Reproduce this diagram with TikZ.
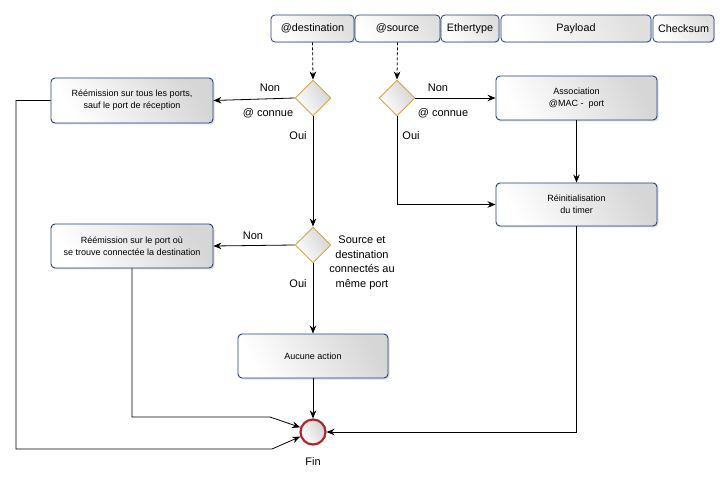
\documentclass[tikz,border=0pt]{standalone}
\usepackage{fontspec}
\setmainfont{Liberation Sans}
\usetikzlibrary{arrows.meta,shapes.geometric,shadows}
\definecolor{boxline}{HTML}{22407F}
\definecolor{diamline}{HTML}{D9A445}
\definecolor{finline}{HTML}{B3242A}
\begin{document}
\begin{tikzpicture}[x=1pt,y=-1pt,
  proc/.style={draw=boxline, line width=0.9pt, rounded corners=4pt,
    left color=white, right color=gray!32, shading angle=120,
    drop shadow={shadow xshift=1.5pt, shadow yshift=-1.5pt, fill=gray!45, opacity=0.6},
    align=center, font=\fontsize{9}{12}\selectfont, inner sep=2pt},
  field/.style={draw=boxline, line width=0.8pt, rounded corners=4pt,
    left color=white, right color=gray!25, shading angle=120,
    drop shadow={shadow xshift=1pt, shadow yshift=-1pt, fill=gray!45, opacity=0.5},
    minimum height=27pt, inner sep=1pt, font=\fontsize{10.8}{12}\selectfont},
  decision/.style={diamond, draw=diamline, line width=0.9pt, aspect=1,
    left color=white, right color=gray!35, shading angle=120,
    minimum width=36pt, minimum height=36pt, inner sep=0pt},
  endstate/.style={circle, draw=finline, line width=2.2pt,
    left color=white, right color=gray!35, shading angle=120,
    minimum size=25pt, inner sep=0pt},
  lbl/.style={font=\fontsize{11}{14.5}\selectfont, align=center, inner sep=0pt},
  arr/.style={-{Stealth[length=8pt,width=6.5pt]}, line width=0.8pt},
  darr/.style={arr, dashed, dash pattern=on 3pt off 2pt}]
\useasboundingbox (0,0) rectangle (728,486);

% frame fields
\node[field, minimum width=83pt] (fdst) at (312.5,28.5) {@destination};
\node[field, minimum width=85pt] (fsrc) at (397.5,28.5) {@source};
\node[field, minimum width=58pt] (feth) at (470,28.5) {Ethertype};
\node[field, minimum width=150pt] (fpay) at (576,28.5) {Payload};
\node[field, minimum width=61pt] (fchk) at (683.5,28.5) {Checksum};

% decisions
\node[decision] (d1) at (313,98) {};
\node[decision] (d2) at (397,98) {};
\node[decision] (d3) at (313,245) {};

% processes
\node[proc, minimum width=162pt, minimum height=45pt] (bcast) at (132,100.5)
  {Réémission sur tous les ports,\\ sauf le port de réception};
\node[proc, minimum width=161pt, minimum height=44pt] (assoc) at (576.5,98)
  {Association\\ @MAC -\ \ port};
\node[proc, minimum width=161pt, minimum height=43pt] (reinit) at (576.5,204.5)
  {Réinitialisation\\ du timer};
\node[proc, minimum width=162pt, minimum height=44pt] (fwd) at (132,246)
  {Réémission sur le port où\\ se trouve connectée la destination};
\node[proc, minimum width=150pt, minimum height=44pt] (none) at (313,356)
  {Aucune action};

% end state
\node[endstate] (fin) at (313,432) {};
\node[lbl] (finlbl) at (313,462) {Fin};

% labels
\node[lbl] (n1) at (270,88) {Non};
\node[lbl] (c1) at (268,113) {@ connue};
\node[lbl] (o1) at (298,136) {Oui};
\node[lbl] (n2) at (438,88) {Non};
\node[lbl] (c2) at (443,113) {@ connue};
\node[lbl] (o2) at (411,136) {Oui};
\node[lbl] (n3) at (253,236) {Non};
\node[lbl] (q3) at (362,263)
  {Source et\\ destination\\ connectés au\\ même port};
\node[lbl] (o3) at (298,284) {Oui};

% connectors
\draw[darr] (fdst.south) -- (d1.north);
\draw[darr] (fsrc.south) -- (d2.north);
\draw[arr] (d1.west) -- (bcast.east);
\draw[arr] (d2.east) -- (assoc.west);
\draw[arr] (assoc.south) -- (reinit.north);
\draw[arr] (d2.south) |- (reinit.west);
\draw[arr] (d1.south) -- (d3.north);
\draw[arr] (d3.west) -- (fwd.east);
\draw[arr] (d3.south) -- (none.north);
\draw[arr] (none.south) -- (fin.north);

\coordinate (k1) at (270,417);
\coordinate (k2) at (16,449);
\coordinate (k3) at (272,449);
\draw[arr] (fwd.south) |- (k1) -- (fin.160);
\draw[arr] (bcast.west) -| (k2) -- (k3) -- (fin.200);
\draw[arr] (reinit.south) |- (fin.east);
\end{tikzpicture}
\end{document}
